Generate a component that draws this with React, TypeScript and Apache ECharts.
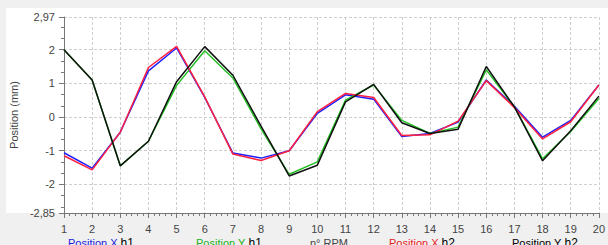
import React, { useEffect, useRef } from "react";
import * as echarts from "echarts";

const xValues = [1, 2, 3, 4, 5, 6, 7, 8, 9, 10, 11, 12, 13, 14, 15, 16, 17, 18, 19, 20];

const posXh1 = [-1.06, -1.52, -0.45, 1.37, 2.05, 0.58, -1.07, -1.22, -1.0, 0.11, 0.66, 0.53, -0.58, -0.49, -0.15, 1.1, 0.32, -0.6, -0.1, 0.95];
const posYh1 = [2.0, 1.1, -1.45, -0.72, 0.94, 1.97, 1.16, -0.35, -1.7, -1.33, 0.5, 0.95, -0.1, -0.49, -0.3, 1.4, 0.3, -1.24, -0.43, 0.55];
const rpm: number[] = [];
const posXh2 = [-1.15, -1.57, -0.45, 1.47, 2.1, 0.6, -1.1, -1.29, -1.0, 0.16, 0.7, 0.58, -0.55, -0.53, -0.12, 1.08, 0.28, -0.65, -0.14, 0.95];
const posYh2 = [2.0, 1.1, -1.45, -0.72, 1.05, 2.09, 1.24, -0.27, -1.75, -1.43, 0.45, 0.97, -0.17, -0.49, -0.36, 1.5, 0.3, -1.3, -0.41, 0.62];

const yMin = -2.85;
const yMax = 2.97;

const FONT = "'Liberation Sans', Arial, sans-serif";

function pairs(ys: number[]) {
  return ys.map((y, i) => [xValues[i], y]);
}

export default function App() {
  const ref = useRef<HTMLDivElement>(null);
  useEffect(() => {
    document.body.style.margin = "0";
    if (!ref.current) return;
    const chart = echarts.init(ref.current, undefined, { renderer: "svg" });
    const line = (name: string, data: number[], color: string, z: number) => ({
      name,
      type: "line",
      data: pairs(data),
      symbol: "none",
      z,
      lineStyle: { color, width: 1.5 },
      itemStyle: { color },
    });
    const legendItem = (x: number, main: string, mainColor: string, tail: string) => ({
      type: "text",
      left: x,
      top: 237,
      style: {
        text: `{m|${main}}{h|${tail}}`,
        rich: {
          m: { fontFamily: FONT, fontSize: 11, fill: mainColor, color: mainColor },
          h: { fontFamily: FONT, fontSize: 12, fill: "#000", color: "#000" },
        },
      },
    });
    chart.setOption({
      animation: false,
      backgroundColor: "#f0f0f0",
      textStyle: { fontFamily: FONT },
      graphic: [
        {
          type: "rect",
          shape: { x: 6, y: 8, width: 602, height: 205 },
          style: { fill: "#ffffff" },
          z: -10,
          silent: true,
        },
        legendItem(68, "Position X ", "#2020e0", "h1"),
        legendItem(196, "Position Y ", "#20b020", "h1"),
        legendItem(310, "n° RPM", "#444444", ""),
        legendItem(389, "Position X ", "#e82020", "h2"),
        legendItem(512, "Position Y ", "#000000", "h2"),
      ],
      grid: { left: 48, top: 17, right: 0, bottom: 32, containLabel: false },
      xAxis: {
        type: "value",
        min: 1,
        max: 20,
        interval: 1,
        axisLine: { show: true, onZero: false, lineStyle: { color: "#777", width: 1 } },
        axisTick: { show: true, length: 5, lineStyle: { color: "#777" } },
        minorTick: { show: true, splitNumber: 5, length: 3, lineStyle: { color: "#777" } },
        axisLabel: { color: "#444", fontSize: 11, fontFamily: FONT, margin: 10 },
        splitLine: { show: true, lineStyle: { color: "#cfcfcf", type: [3, 2], width: 1 } },
      },
      yAxis: {
        type: "value",
        min: yMin,
        max: yMax,
        splitNumber: 6,
        name: "Position (mm)",
        nameLocation: "middle",
        nameGap: 37,
        nameTextStyle: { color: "#444", fontSize: 11, fontFamily: FONT },
        axisLine: { show: true, onZero: false, lineStyle: { color: "#777", width: 1 } },
        axisTick: { show: true, length: 5, lineStyle: { color: "#777" } },
        minorTick: { show: true, splitNumber: 3, length: 3, lineStyle: { color: "#777" } },
        axisLabel: {
          color: "#444",
          fontSize: 11,
          fontFamily: FONT,
          margin: 9,
          showMinLabel: true,
          showMaxLabel: true,
          formatter: (v: number) => String(Number(v.toFixed(2))).replace(".", ","),
        },
        splitLine: { show: true, lineStyle: { color: "#cfcfcf", type: [3, 2], width: 1 } },
      },
      series: [
        line("Position X h1", posXh1, "#2020ff", 2),
        line("Position Y h1", posYh1, "#22c022", 3),
        line("n° RPM", rpm, "#808080", 1),
        line("Position X h2", posXh2, "#ff2040", 4),
        line("Position Y h2", posYh2, "#111111", 5),
      ],
    });
    return () => chart.dispose();
  }, []);
  return <div ref={ref} style={{ width: 608, height: 245 }} />;
}
